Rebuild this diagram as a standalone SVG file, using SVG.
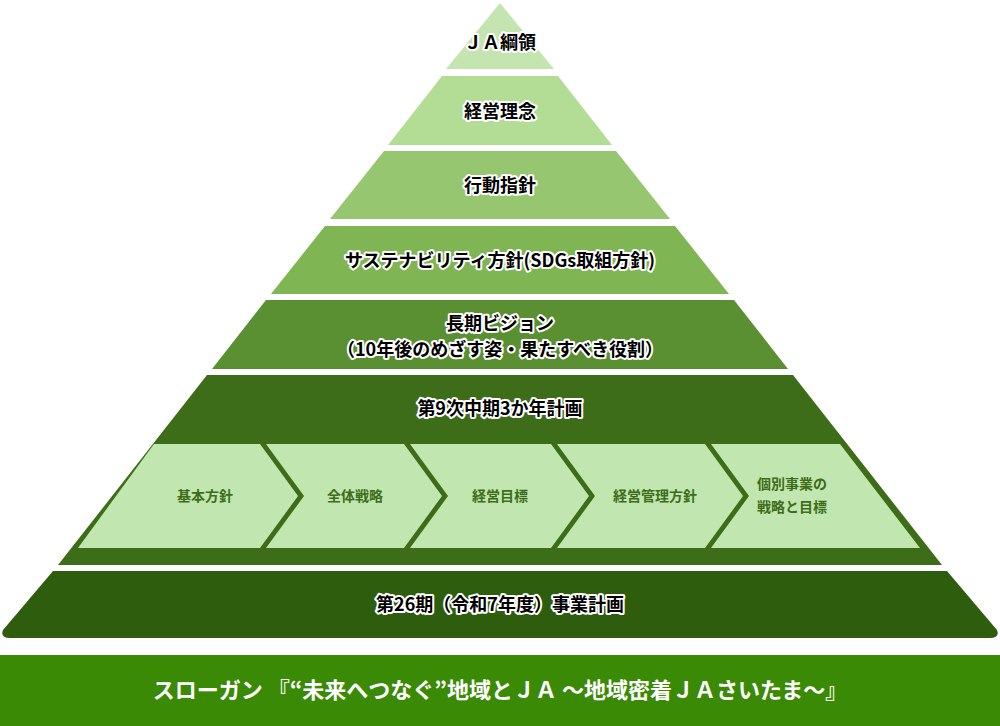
<svg xmlns="http://www.w3.org/2000/svg" width="1000" height="726" viewBox="0 0 1000 726">
<style>
text{font-family:"Noto Sans CJK JP","Noto Sans",sans-serif;font-weight:bold;text-anchor:middle}
.t{font-size:18px;fill:#000;stroke:#fff;stroke-width:4;stroke-linejoin:round;paint-order:stroke}
.c{font-size:14px;fill:#3d6d19}
.chev{fill:#c2e6b0}
</style>
<rect width="1000" height="726" fill="#fff"/>
<g id="n1"><polygon points="500,3 554,69 446,69" fill="#c5e5b0"/><text class="t" x="500" y="49">ＪＡ綱領</text></g>
<g id="n2"><polygon points="442,76 558,76 612,145 388,145" fill="#b3dc95"/><text class="t" x="500" y="118">経営理念</text></g>
<g id="n3"><polygon points="384,151 616,151 670,219 330,219" fill="#97c670"/><text class="t" x="500" y="192">行動指針</text></g>
<g id="n4"><polygon points="325,226 675,226 729,294 271,294" fill="#7fb553"/><text class="t" x="500" y="267">サステナビリティ方針(SDGs取組方針)</text></g>
<g id="n5"><polygon points="266,300 734,300 788,369 212,369" fill="#5a8f32"/><text class="t" x="500" y="330">長期ビジョン</text><text class="t" x="500" y="356">（10年後のめざす姿・果たすべき役割）</text></g>
<g id="n6"><polygon points="207,375 793,375 942,565 58,565" fill="#3d6d19"/><text class="t" x="500" y="415">第9次中期3か年計画</text></g>
<g id="c1"><polygon class="chev" points="154,444 260,444 298,496 260,548 78,548"/><text class="c" x="205" y="501">基本方針</text></g>
<g id="c2"><polygon class="chev" points="266,444 404,444 442,496 404,548 266,548 304,496"/><text class="c" x="355" y="501">全体戦略</text></g>
<g id="c3"><polygon class="chev" points="410,444 551,444 589,496 551,548 410,548 448,496"/><text class="c" x="500" y="501">経営目標</text></g>
<g id="c4"><polygon class="chev" points="557,444 705,444 743,496 705,548 557,548 595,496"/><text class="c" x="655" y="501">経営管理方針</text></g>
<g id="c5"><polygon class="chev" points="711,444 840,444 920,548 711,548 749,496"/><text class="c" x="792" y="489">個別事業の</text><text class="c" x="792" y="512">戦略と目標</text></g>
<g id="n7"><path d="M53,571 H947 L997,630 Q1000,638 990,638 H10 Q0,638 3,630 Z" fill="#2e5e0d"/><text class="t" x="500" y="611">第26期（令和7年度）事業計画</text></g>
<g id="banner"><rect x="0" y="655" width="1000" height="71" fill="#3b8a06"/><text x="500" y="698" style="font-size:22px;fill:#fff">スローガン 『“未来へつなぐ”地域とＪＡ ～地域密着ＪＡさいたま～』</text></g>
<g id="connectors"/>
</svg>
